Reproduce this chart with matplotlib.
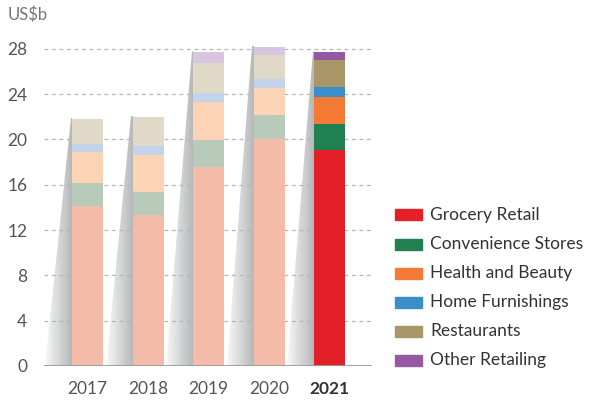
import numpy as np
import matplotlib
matplotlib.use("Agg")
import matplotlib.pyplot as plt
from matplotlib.patches import Polygon, Rectangle
from matplotlib.colors import LinearSegmentedColormap

plt.rcParams['font.family'] = ['Lato', 'DejaVu Sans']

# data (US$b)
years = ['2017', '2018', '2019', '2020', '2021']
categories = ['Grocery Retail', 'Convenience Stores', 'Health and Beauty',
              'Home Furnishings', 'Restaurants', 'Other Retailing']
grocery = [14.15, 13.3, 17.55, 20.0, 19.1]
convenience = [2.0, 2.05, 2.4, 2.15, 2.3]
health = [2.75, 3.25, 3.35, 2.4, 2.35]
home = [0.7, 0.85, 0.8, 0.8, 0.85]
restaurants = [2.2, 2.55, 2.65, 2.1, 2.4]
other = [0.0, 0.0, 0.95, 0.7, 0.7]
yticks = [0, 4, 8, 12, 16, 20, 24, 28]

series = [grocery, convenience, health, home, restaurants, other]
strong = ['#E32028', '#20804F', '#F47B35', '#3A8FCB', '#A89668', '#9658A0']
faded = ['#F4BBA8', '#B8CBBB', '#FDD3B6', '#C3D4EA', '#E0D9C7', '#D8C5E0']

fig = plt.figure(figsize=(5.91, 4.0), dpi=100)
ax = fig.add_axes([44/591, 1 - 366/400, (372 - 44)/591, 29 * 11.33/400])

x = np.arange(len(years))
w = 0.51
totals = np.sum(np.array(series), axis=0)

# grey gradient "shadows" to the left of each bar
cmap = LinearSegmentedColormap.from_list('sh', ['#F8F8F8', '#B4B5B7'])
grad = np.linspace(0, 1, 256).reshape(1, -1)
sw = 27 / 60.5
for i in range(len(years)):
    left = x[i] - w / 2
    top = totals[i] + 0.1
    poly = Polygon([(left - sw, 0), (left, 0), (left, top), (left - 0.02, top)],
                   closed=True, facecolor='none', edgecolor='none')
    ax.add_patch(poly)
    im = ax.imshow(grad, cmap=cmap, aspect='auto', extent=(left - sw, left, 0, top),
                   zorder=1, interpolation='bicubic')
    im.set_clip_path(poly)

# grid
for t in yticks[1:]:
    ax.axhline(t, color='#B5B5B5', lw=0.9, ls=(0, (3, 3)), zorder=2)

# stacked bars
bottom = np.zeros(len(years))
for k, vals in enumerate(series):
    cols = [faded[k]] * (len(years) - 1) + [strong[k]]
    ax.bar(x, vals, w, bottom=bottom, color=cols, zorder=3, linewidth=0)
    bottom += np.array(vals)

ax.set_xlim(-0.72, 4.70)
ax.set_ylim(0, 29)
ax.axhline(0, color='#9A9A9A', lw=2, zorder=4)
for s in ax.spines.values():
    s.set_visible(False)
ax.set_yticks(yticks)
ax.set_yticklabels([str(t) for t in yticks], fontsize=12.5, color='#555555')
ax.set_xticks(x)
ax.set_xticklabels(years, fontsize=12.5, color='#555555')
ax.get_xticklabels()[-1].set_fontweight('bold')
ax.get_xticklabels()[-1].set_color('#333333')
ax.tick_params(length=0)
ax.tick_params(axis='y', pad=12)
ax.tick_params(axis='x', pad=11)

fig.text(8/591, 1 - 15/400, 'US$b', fontsize=12, color='#777777', va='center')

# legend
for k, name in enumerate(categories):
    yc = 1 - (215 + 29 * k) / 400
    fig.patches.append(Rectangle((395/591, yc - 5.5/400), 27/591, 11/400,
                                 transform=fig.transFigure, color=strong[k]))
    fig.text(430/591, yc, name, fontsize=12.5, color='#333333', va='center')

fig.savefig('out.png', dpi=100)
